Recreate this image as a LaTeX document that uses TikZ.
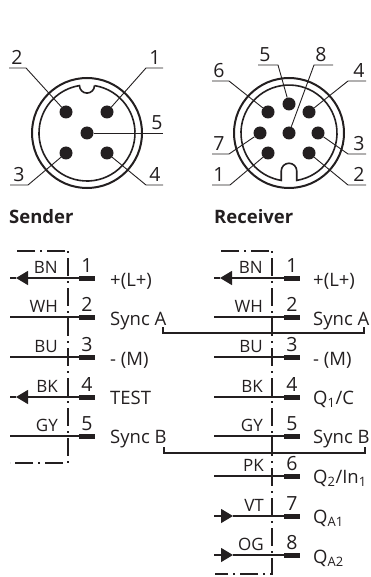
\documentclass[tikz,border=0pt]{standalone}
\usepackage{fontspec}
\usetikzlibrary{arrows.meta}
\setmainfont{Open Sans}
\definecolor{ink}{HTML}{231F20}
\tikzset{
	pin/.style={circle,fill=ink,minimum size=13pt,inner sep=0pt},
	shell/.style={circle,draw=ink,line width=2pt,minimum size=110pt,inner sep=0pt},
	num/.style={text=ink,inner sep=0pt,anchor=base,font=\fontsize{19.5}{19.5}\selectfont},
	txt/.style={text=ink,inner sep=0pt,anchor=base west,font=\fontsize{18.5}{18.5}\selectfont},
	head/.style={text=ink,inner sep=0pt,anchor=base west,font=\fontsize{18.5}{18.5}\selectfont\bfseries},
	col/.style={text=ink,inner sep=0pt,anchor=base east,font=\fontsize{17}{17}\selectfont},
	term/.style={rectangle,fill=ink,minimum width=16pt,minimum height=5pt,inner sep=0pt},
	wire/.style={draw=ink,line width=1.2pt},
	lead/.style={draw=ink,line width=.9pt},
	bus/.style={draw=ink,line width=1.3pt},
	housing/.style={draw=ink,line width=1.5pt,dash pattern=on 2pt off 5pt on 18pt off 5pt},
	tip/.style={draw=ink,line width=1.2pt,-{Triangle[length=12pt,width=14pt,fill=ink]}},
}
\begin{document}
\begin{tikzpicture}[x=1pt,y=1pt,yscale=-1]
	\useasboundingbox (0,0) rectangle (371,577);

	% sender plug
	\node[shell] (SC) at (87,133) {};
	\draw[ink,line width=1.6pt] (94.5,85.6) arc[start angle=-81,end angle=261,radius=48] arc[start angle=180,end angle=0,radius=7.5];
	\node[pin] (SP1) at (107,112) {};
	\node[pin] (SP2) at (66,112) {};
	\node[pin] (SP3) at (66,153) {};
	\node[pin] (SP4) at (107,153) {};
	\node[pin] (SP5) at (87,133) {};
	\node[num] (SN1) at (155,65) {1};
	\node[num] (SN2) at (17,65) {2};
	\node[num] (SN3) at (19,182) {3};
	\node[num] (SN4) at (155,182) {4};
	\node[num] (SN5) at (157,130) {5};
	\coordinate (SL1a) at (146,68);	\coordinate (SL1b) at (163,68);
	\coordinate (SL2a) at (26,68);	\coordinate (SL2b) at (9,68);
	\coordinate (SL3a) at (28,185);	\coordinate (SL3b) at (10,185);
	\coordinate (SL4a) at (146,185);	\coordinate (SL4b) at (163,185);
	\coordinate (SL5b) at (163,133);
	\draw[lead] (SP1) -- (SL1a) -- (SL1b);
	\draw[lead] (SP2) -- (SL2a) -- (SL2b);
	\draw[lead] (SP3) -- (SL3a) -- (SL3b);
	\draw[lead] (SP4) -- (SL4a) -- (SL4b);
	\draw[lead] (SP5) -- (SL5b);

	% receiver plug
	\node[shell] (RC) at (289,133) {};
	\draw[ink,line width=1.6pt] (296.75,180.4) arc[start angle=80.7,end angle=-260.7,radius=48] -- (281.25,171) arc[start angle=180,end angle=360,radius=7.75] -- cycle;
	\node[pin] (RP1) at (268,153) {};
	\node[pin] (RP2) at (309,153) {};
	\node[pin] (RP3) at (318,133) {};
	\node[pin] (RP4) at (309,112) {};
	\node[pin] (RP5) at (289,104) {};
	\node[pin] (RP6) at (268,112) {};
	\node[pin] (RP7) at (260,133) {};
	\node[pin] (RP8) at (289,133) {};
	\node[num] (RN1) at (219,182) {1};
	\node[num] (RN2) at (359,182) {2};
	\node[num] (RN3) at (359,151) {3};
	\node[num] (RN4) at (359,78) {4};
	\node[num] (RN5) at (265,62) {5};
	\node[num] (RN6) at (219,78) {6};
	\node[num] (RN7) at (219,151) {7};
	\node[num] (RN8) at (321,62) {8};
	\coordinate (RL1a) at (230,185);	\coordinate (RL1b) at (212,185);
	\coordinate (RL2a) at (348,185);	\coordinate (RL2b) at (366,185);
	\coordinate (RL3a) at (348,154);	\coordinate (RL3b) at (366,154);
	\coordinate (RL4a) at (348,81);	\coordinate (RL4b) at (366,81);
	\coordinate (RL5a) at (278,65);	\coordinate (RL5b) at (258,65);
	\coordinate (RL6a) at (229,81);	\coordinate (RL6b) at (212,81);
	\coordinate (RL7a) at (229,154);	\coordinate (RL7b) at (212,154);
	\coordinate (RL8a) at (314,65);	\coordinate (RL8b) at (333,65);
	\draw[lead] (RP1) -- (RL1a) -- (RL1b);
	\draw[lead] (RP2) -- (RL2a) -- (RL2b);
	\draw[lead] (RP3) -- (RL3a) -- (RL3b);
	\draw[lead] (RP4) -- (RL4a) -- (RL4b);
	\draw[lead] (RP5) -- (RL5a) -- (RL5b);
	\draw[lead] (RP6) -- (RL6a) -- (RL6b);
	\draw[lead] (RP7) -- (RL7a) -- (RL7b);
	\draw[lead] (RP8) -- (RL8a) -- (RL8b);

	\node[head] (SH) at (9,223) {Sender};
	\node[head] (RH) at (214,223) {Receiver};

	% sender wiring
	\coordinate (SB0) at (15,251);	\coordinate (SB1) at (68,251);
	\coordinate (SB2) at (68,463);	\coordinate (SB3) at (10,463);
	\draw[housing,dash phase=4pt] (SB1) -- (SB0);
	\draw[housing] (SB1) -- (SB2) -- (SB3);

	\node[term] (ST1) at (87,278) {};
	\node[term] (ST2) at (87,317) {};
	\node[term] (ST3) at (87,357) {};
	\node[term] (ST4) at (87,397) {};
	\node[term] (ST5) at (87,436) {};
	\coordinate (SW1) at (10,278);	\coordinate (SA1) at (16,278);
	\coordinate (SW2) at (10,317);
	\coordinate (SW3) at (10,357);
	\coordinate (SW4) at (10,397);	\coordinate (SA4) at (16,397);
	\coordinate (SW5) at (10,436);
	\draw[tip] (ST1) -- (SA1);	\draw[wire] (SA1) -- (SW1);
	\draw[wire] (ST2) -- (SW2);
	\draw[wire] (ST3) -- (SW3);
	\draw[tip] (ST4) -- (SA4);	\draw[wire] (SA4) -- (SW4);
	\draw[wire] (ST5) -- (SW5);
	\node[col] (SC1) at (58,273) {BN};
	\node[col] (SC2) at (58,312) {WH};
	\node[col] (SC3) at (58,352) {BU};
	\node[col] (SC4) at (58,392) {BK};
	\node[col] (SC5) at (58,431) {GY};
	\node[num] (SD1) at (87,272) {1};
	\node[num] (SD2) at (87,311) {2};
	\node[num] (SD3) at (87,351) {3};
	\node[num] (SD4) at (87,391) {4};
	\node[num] (SD5) at (87,430) {5};
	\node[txt] (SS1) at (110,286) {+(L+)};
	\node[txt] (SS2) at (110,325) {Sync A};
	\node[txt] (SS3) at (110,365) {- (M)};
	\node[txt] (SS4) at (110,404) {TEST};
	\node[txt] (SS5) at (110,443) {Sync B};

	% receiver wiring
	\coordinate (RB0) at (219,251);	\coordinate (RB1) at (272,251);
	\coordinate (RB2) at (272,574);	\coordinate (RB3) at (215,574);
	\draw[housing,dash phase=4pt] (RB1) -- (RB0);
	\draw[housing] (RB1) -- (RB2) -- (RB3);

	\node[term] (RT1) at (292,278) {};
	\node[term] (RT2) at (292,317) {};
	\node[term] (RT3) at (292,357) {};
	\node[term] (RT4) at (292,397) {};
	\node[term] (RT5) at (292,436) {};
	\node[term] (RT6) at (292,476) {};
	\node[term] (RT7) at (292,516) {};
	\node[term] (RT8) at (292,555) {};
	\coordinate (RW1) at (214,278);	\coordinate (RA1) at (220,278);
	\coordinate (RW2) at (214,317);
	\coordinate (RW3) at (214,357);
	\coordinate (RW4) at (214,397);
	\coordinate (RW5) at (214,436);
	\coordinate (RW6) at (214,476);
	\coordinate (RW7) at (214,516);	\coordinate (RA7) at (233,516);
	\coordinate (RW8) at (214,555);	\coordinate (RA8) at (233,555);
	\draw[tip] (RT1) -- (RA1);	\draw[wire] (RA1) -- (RW1);
	\draw[wire] (RT2) -- (RW2);
	\draw[wire] (RT3) -- (RW3);
	\draw[wire] (RT4) -- (RW4);
	\draw[wire] (RT5) -- (RW5);
	\draw[wire] (RT6) -- (RW6);
	\draw[tip] (RW7) -- (RA7);	\draw[wire] (RA7) -- (RT7);
	\draw[tip] (RW8) -- (RA8);	\draw[wire] (RA8) -- (RT8);
	\node[col] (RC1) at (263,273) {BN};
	\node[col] (RC2) at (263,312) {WH};
	\node[col] (RC3) at (263,352) {BU};
	\node[col] (RC4) at (263,392) {BK};
	\node[col] (RC5) at (263,431) {GY};
	\node[col] (RC6) at (264,471) {PK};
	\node[col] (RC7) at (264,511) {VT};
	\node[col] (RC8) at (264,550) {OG};
	\node[num] (RD1) at (292,272) {1};
	\node[num] (RD2) at (292,311) {2};
	\node[num] (RD3) at (292,351) {3};
	\node[num] (RD4) at (292,391) {4};
	\node[num] (RD5) at (292,430) {5};
	\node[num] (RD6) at (292,470) {6};
	\node[num] (RD7) at (292,510) {7};
	\node[num] (RD8) at (292,549) {8};
	\node[txt] (RS1) at (313,286) {+(L+)};
	\node[txt] (RS2) at (313,325) {Sync A};
	\node[txt] (RS3) at (313,365) {- (M)};
	\node[txt] (RS4) at (313,404) {Q\textsubscript{1}/C};
	\node[txt] (RS5) at (313,443) {Sync B};
	\node[txt] (RS6) at (313,483) {Q\textsubscript{2}/In\textsubscript{1}};
	\node[txt] (RS7) at (313,523) {Q\textsubscript{A1}};
	\node[txt] (RS8) at (313,563) {Q\textsubscript{A2}};

	% sync links
	\coordinate (BA0) at (163,327);	\coordinate (BA1) at (163,333);
	\coordinate (BA2) at (364,333);	\coordinate (BA3) at (364,327);
	\coordinate (JA0) at (272,317);	\coordinate (JA1) at (272,333);
	\draw[bus] (BA0) -- (BA1) -- (BA2) -- (BA3);
	\draw[bus] (JA0) -- (JA1);
	\coordinate (BB0) at (164,447);	\coordinate (BB1) at (164,453);
	\coordinate (BB2) at (365,453);	\coordinate (BB3) at (365,447);
	\coordinate (JB0) at (272,436);	\coordinate (JB1) at (272,453);
	\draw[bus] (BB0) -- (BB1) -- (BB2) -- (BB3);
	\draw[bus] (JB0) -- (JB1);
\end{tikzpicture}
\end{document}
